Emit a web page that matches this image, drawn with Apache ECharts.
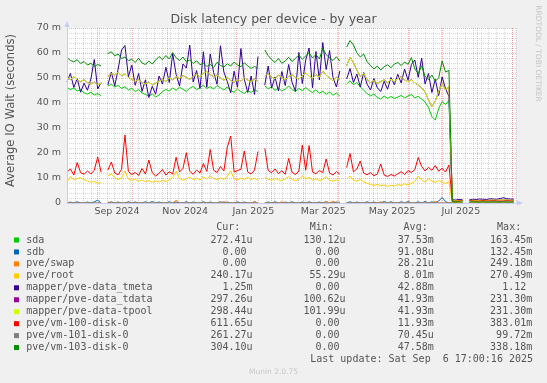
<!DOCTYPE html>
<html><head><meta charset="utf-8">
<script src="https://cdn.jsdelivr.net/npm/echarts@6/dist/echarts.min.js"></script>
<style>html,body{margin:0;padding:0;background:#f0f0f0}#c{width:547px;height:383px}</style>
</head><body><div id="c"></div>
<script>
// x axis in days from Mon 2024-08-05
const dayCount = 395;
const stepDays = 3;
const monthStartDays = [27,57,88,118,149,180,208,239,269,300,330,361,392];
const monthLabelDays = [44,104,164,225.5,286,346.5];
const monthLabels = ['Sep 2024','Nov 2024','Jan 2025','Mar 2025','May 2025','Jul 2025'];
const yTicks = [0,10,20,30,40,50,60,70];
const yTickLabels = ['0','10 m','20 m','30 m','40 m','50 m','60 m','70 m'];

const seriesNames = ['sda','sdb','pve/swap','pve/root','mapper/pve-data_tmeta','mapper/pve-data_tdata','mapper/pve-data-tpool','pve/vm-100-disk-0','pve/vm-101-disk-0','pve/vm-103-disk-0'];
const seriesColors = ['#00CC00','#0066B3','#FF8000','#FFCC00','#330099','#990099','#CCFF00','#FF0000','#808080','#008F00'];
const curVals = ['272.41u','  0.00','  0.00','240.17u','  1.25m','297.26u','298.44u','611.65u','261.27u','304.10u'];
const minVals = ['130.12u','  0.00','  0.00',' 55.29u','  0.00','100.62u','101.99u','  0.00','  0.00','  0.00'];
const avgVals = [' 37.53m',' 91.08u',' 28.21u','  8.01m',' 42.88m',' 41.93m',' 41.93m',' 11.93m',' 70.45u',' 47.58m'];
const maxVals = ['163.45m','132.45m','249.18m','270.49m','  1.12','231.30m','231.30m','383.01m',' 99.72m','338.18m'];

// values in milliseconds, one sample every 3 days
const sda = [46.2,45.4,45.9,44.8,45.3,44.1,43.6,44.3,43.2,43.8,
42.9,null,46.8,47.5,46.4,47.0,45.8,46.5,45.2,45.9,
44.6,45.3,44.0,43.4,42.8,43.6,42.4,43.2,44.6,45.4,
44.8,46.0,45.1,46.3,45.5,44.7,45.9,46.6,45.3,46.2,
47.1,45.8,46.5,45.6,47.0,46.1,45.2,46.4,45.0,44.3,
45.6,44.5,43.8,45.0,44.2,45.3,44.6,null,46.9,45.7,
46.4,45.1,46.0,44.8,45.6,46.8,45.4,44.6,45.8,44.9,
46.2,45.0,44.2,45.3,43.9,44.7,43.5,44.4,43.1,44.0,
42.8,null,47.6,48.9,47.3,48.2,46.5,45.1,43.8,42.9,
43.5,42.2,41.6,42.8,41.9,42.6,41.8,42.4,43.0,42.1,
42.8,43.4,42.0,42.7,41.5,40.4,38.2,34.6,33.2,37.8,
40.6,39.4,41.0,0.3,0.3,0.3,0.3,null,0.3,0.3,
0.3,0.3,0.3,0.3,0.3,0.3,0.3,0.3,0.3,0.3,
0.3,0.3];
const sdb = [0,0.4,0,0.5,0,0,0.4,0,0.5,1.1,
0,null,0,0.5,0,0.4,0,0,0.5,0,
0.4,0,0,0.5,0,0.6,0,0.4,0,0,
0.5,0,0.4,0,0,0.5,0,0.4,0,0,
0.5,0,0.4,0,0,0.5,0,0.4,0,0,
0.5,0,0.4,0,0,0.5,0,null,0,0.4,
0,0.5,0,0,0.4,0,0.5,0,0,0.4,
0,0.5,0,0,0.4,0,0.5,0,0,0.4,
0,null,0,0.5,0,0.4,0,0,0.5,0,
0.4,0,0,0.6,0,0.5,0,0,0.5,0,
0.6,0,0,0.5,0,0.6,0,0.5,0,0.8,
2.2,0.6,0,0,0,0,0,null,0,0,
0,0,0,0,0,0,0,0,0,0,
0,0];
const swap = [0.4,0,0,0,0,0,0,0,0,0,
0,null,0.5,0,0,0,0,0,0,0,
0,0,0,0,0,0,0,0,0,0,
0,0,1.1,0,0,0,0,0,0,0,
0,0,0,0,0,0,0.6,0,0,0,
0,0,0,0,0,0.5,0,null,0,0,
0,0,0,0.5,0,0,0,0,0,0,
0,0,0,0,0,0,0.6,0,0.8,0,
0.5,null,0,0,0,0,0,0,0,0,
0,0,0.5,0,0,0,0,0,0,0,
0,0,0,0,0,0,0,0,0.7,0,
0,0,0,0,0,0,0,null,0,0,
0,0,0,0,0,0,0,0,0,0,
0,0];
const root = [8.4,10.6,9.2,9.8,10.1,9.4,8.8,8.3,8.6,7.9,
8.2,null,10.8,11.6,10.2,9.4,10.0,12.8,9.6,9.0,
9.5,8.7,9.2,8.5,9.0,8.3,8.8,8.4,9.1,8.6,
9.3,10.2,12.6,9.8,9.1,9.7,10.4,9.3,9.9,9.2,
10.5,9.6,10.9,9.8,9.3,10.1,9.4,10.6,12.9,9.7,
9.2,10.0,9.5,10.3,9.4,9.9,9.1,null,10.4,9.6,
9.1,9.8,9.3,9.0,9.6,10.7,9.4,8.9,9.5,10.8,
9.6,10.3,9.2,9.7,9.0,9.4,10.6,9.1,8.7,9.3,
8.8,null,9.6,10.8,9.2,8.7,9.4,8.5,7.9,7.4,
7.0,7.5,6.9,7.2,6.6,7.1,6.8,7.4,7.0,7.7,
7.2,7.9,8.6,10.8,9.2,8.4,9.6,8.8,8.2,9.0,
8.4,7.8,8.5,0.2,0.2,0.2,0.2,null,0.2,0.2,
0.2,0.2,0.2,0.2,0.2,0.2,0.2,0.2,0.2,0.2,
0.2,0.2];
const tmeta = [48.5,51.8,46.2,49.7,44.3,47.9,45.1,49.6,57.4,45.6,
48.2,null,47.2,52.4,46.8,53.6,61.2,63.0,50.5,55.2,
47.1,51.8,44.6,49.3,42.2,46.7,43.5,50.8,47.6,54.3,
48.2,59.8,51.4,46.8,55.6,54.0,63.2,48.4,53.0,45.8,
60.5,46.3,59.6,52.2,47.5,62.9,52.4,48.6,44.1,52.7,
46.3,61.8,49.5,44.2,50.8,43.4,58.6,null,47.2,54.8,
46.0,50.4,44.8,52.6,47.0,55.4,48.3,44.7,60.2,47.8,
57.2,62.0,46.1,60.6,49.2,64.2,53.4,61.0,50.2,46.4,
52.8,null,49.6,53.8,48.2,51.6,46.4,52.2,47.5,45.2,
49.8,46.1,44.6,48.7,45.5,50.2,47.3,51.5,48.0,53.6,
49.1,55.4,57.2,50.3,58.0,47.6,51.8,44.2,49.5,43.0,
50.4,45.8,42.6,1.3,1.2,1.4,1.3,null,1.3,1.5,
1.4,1.6,1.5,1.4,1.7,1.6,1.5,1.8,2.1,1.7,
1.6,1.5];
const tpool = [50.2,49.4,50.6,49.1,48.5,49.3,48.2,47.6,48.4,47.3,
47.9,null,50.6,51.8,51.2,52.3,50.9,51.6,50.2,49.5,
48.6,49.4,48.1,47.6,48.4,47.2,47.9,48.8,49.5,48.6,
50.1,49.2,50.6,49.8,51.0,50.3,49.4,50.7,51.5,50.4,
51.9,52.6,51.4,50.5,51.2,50.0,49.1,50.3,49.0,48.2,
49.4,48.7,50.1,49.2,48.5,49.6,48.8,null,50.8,51.6,
50.4,49.7,51.2,50.1,49.3,50.6,51.4,50.2,49.5,50.9,
52.1,50.7,49.8,51.3,50.4,52.8,51.1,50.0,48.9,50.3,
49.4,null,54.8,58.4,56.1,53.2,50.6,51.8,49.4,48.2,
49.0,47.8,48.6,49.3,48.1,49.6,48.4,49.9,50.5,49.2,
48.5,49.4,48.0,47.2,46.1,44.4,41.2,38.5,40.8,44.6,
47.9,45.2,46.8,1.0,0.9,1.0,1.0,null,1.0,1.1,
1.0,1.0,1.1,1.0,1.1,1.2,1.1,1.2,1.3,1.2,
1.1,1.1];
const tdata = tpool; // identical values (same avg/max in legend)
const vm100 = [12.4,13.6,11.2,16.2,12.1,11.5,12.8,11.6,13.1,18.4,
12.3,null,13.2,16.4,12.0,11.3,13.5,27.2,12.6,11.4,
12.2,11.0,13.8,11.6,17.2,12.1,10.8,11.9,13.4,11.2,
12.5,11.6,18.3,12.4,13.8,20.1,12.7,11.5,13.2,12.0,
15.8,12.6,21.4,13.1,12.2,14.6,12.8,22.2,26.8,12.4,
13.0,13.5,20.8,12.4,11.6,13.2,20.6,null,21.8,13.0,
12.1,13.6,11.8,12.9,11.5,17.8,12.3,11.4,12.8,23.2,
13.1,23.0,12.4,11.7,13.0,12.2,17.6,12.0,11.2,12.6,
11.5,null,14.2,19.8,12.5,13.6,16.8,12.0,11.3,12.1,
10.9,11.6,15.6,11.2,10.6,11.4,10.8,11.7,12.5,11.4,
13.0,12.2,13.4,18.2,14.6,12.8,14.2,13.1,15.0,12.7,
13.9,12.4,15.2,0.8,0.7,0.8,0.9,null,0.9,0.8,
0.7,0.8,0.9,0.8,0.8,0.9,0.8,0.7,0.8,0.9,
0.8,0.8];
const vm101 = [0,0,0,0,0,0,0,0,0,0,
0,null,0,0,0,0,0,0,0,0,
0,0,0,0,0,0,0,0,0,0,
0,0,0,0,0,0,0,0,0,0,
0,0,0,0,0,0,0,0,0,0,
0,0,0,0,0,0,0,null,0,0,
0,0,0,0,0,0,0,0,0,0,
0,0,0,0,0,0,0,0,0,0,
0,null,0,0,0,0,0,0,0,0,
0,0,0,0,0,0,0,0,0,0,
0,0,0,0,0,0,0,0,0,0,
0,0,0,0,0,0,0,null,0,0,
0,0,0,0,0,0,0,0,0,0,
0,0];
const vm103 = [58.2,57.0,56.5,57.3,55.8,56.6,55.2,55.9,54.6,55.4,
54.8,null,59.8,60.5,58.9,59.6,57.8,58.4,56.9,57.5,
56.2,57.9,56.0,55.4,56.8,55.6,57.2,58.6,57.4,59.0,
57.6,60.2,58.1,57.0,58.4,56.5,57.2,55.8,56.9,55.3,
56.0,54.6,55.5,54.2,56.3,55.0,54.4,55.7,54.8,56.4,
55.2,54.5,56.1,54.9,53.8,54.6,53.9,null,61.2,59.0,
57.4,56.2,57.8,55.9,56.8,58.3,56.6,57.9,59.2,57.5,
58.8,60.1,58.0,59.4,57.6,61.8,59.3,58.1,57.0,58.5,
56.7,null,62.4,65.0,63.2,60.1,58.4,59.6,56.5,55.0,
53.6,54.8,53.2,54.5,55.3,54.1,55.6,56.2,55.0,56.4,
55.5,58.2,53.6,51.8,54.9,50.6,49.4,51.2,48.7,50.1,
56.8,52.4,53.0,0.5,0.4,0.5,0.4,null,0.4,0.5,
0.4,0.4,0.5,0.4,0.4,0.5,0.4,0.4,0.5,0.4,
0.4,0.4];

const seriesValues = [sda,sdb,swap,root,tmeta,tdata,tpool,vm100,vm101,vm103];

const TXT = '#555555';
const SANS = 'DejaVu Sans';
const MONO = '"DejaVu Sans Mono"';
const majorGrid = 'rgba(255,0,0,0.32)';
const minorGrid = 'rgba(128,128,128,0.32)';
const axisCol = '#c6ccf4';

const series = seriesValues.map((vals, k) => ({
  name: seriesNames[k],
  type: 'line',
  xAxisIndex: 0, yAxisIndex: 0,
  data: vals.map((v, i) => [i * stepDays, v]),
  symbol: 'none', showSymbol: false, silent: true,
  connectNulls: false,
  lineStyle: { color: seriesColors[k], width: 1 },
  itemStyle: { color: seriesColors[k] },
  emphasis: { disabled: true },
  z: 2
}));

const els = [];
els.push({ type:'text', x:273.5, y:20, silent:true, style:{ text:'Disk latency per device - by year', font:'12.5px "DejaVu Sans"', fill:TXT, align:'center', verticalAlign:'middle', textAlign:'center', textVerticalAlign:'middle' } });
els.push({ type:'text', x:10.5, y:110.5, rotation:Math.PI/2, silent:true, style:{ text:'Average IO Wait (seconds)', font:'11.6px "DejaVu Sans"', fill:TXT, align:'center', verticalAlign:'middle', textAlign:'center', textVerticalAlign:'middle' } });
els.push({ type:'text', x:537.5, y:53.5, rotation:-Math.PI/2, silent:true, style:{ text:'RRDTOOL / TOBI OETIKER', font:'7.5px "DejaVu Sans"', fill:'#c4c4c4', align:'center', verticalAlign:'middle', textAlign:'center', textVerticalAlign:'middle' } });
els.push({ type:'text', x:273.5, y:372, silent:true, style:{ text:'Munin 2.0.75', font:'7.5px "DejaVu Sans"', fill:'#c8c8c8', align:'center', verticalAlign:'middle', textAlign:'center', textVerticalAlign:'middle' } });

const colX = { sq:14, name:26.2, cur:210.4, min:303.5, avg:391.7, max:490.1 };
const headers = [['Cur:',216.3],['Min:',309.8],['Avg:',403.6],['Max:',497.1]];
const monoFont = '10px ' + MONO;
function t(text, x, y, align) {
  return { type:'text', x:x, y:y, silent:true, style:{ text:text, font:monoFont, fill:TXT, align:align||'left', verticalAlign:'middle', textAlign:align||'left', textVerticalAlign:'middle' } };
}
headers.forEach(h => els.push(t(h[0], h[1], 227.3)));
const rowY0 = 240, rowStep = 11.95;
seriesNames.forEach((n, i) => {
  const y = rowY0 + i * rowStep;
  els.push({ type:'rect', silent:true, shape:{ x:colX.sq, y:y-2.5, width:5, height:5 }, style:{ fill:seriesColors[i] } });
  els.push(t(n, colX.name, y));
  els.push(t(curVals[i], colX.cur, y));
  els.push(t(minVals[i], colX.min, y));
  els.push(t(avgVals[i], colX.avg, y));
  els.push(t(maxVals[i], colX.max, y));
});
els.push(t('Last update: Sat Sep  6 17:00:16 2025', 533, 359.3, 'right'));

const chart = echarts.init(document.getElementById('c'), null, { renderer:'canvas' });
chart.setOption({
  animation: false,
  backgroundColor: '#f0f0f0',
  grid: { left:67, right:31, top:28, bottom:180, show:true, backgroundColor:'#ffffff', borderWidth:0, containLabel:false, outerBoundsMode:'none' },
  xAxis: [
    { type:'value', min:0, max:dayCount, interval:7, position:'bottom',
      axisLine:{show:false}, axisTick:{show:false},
      axisLabel:{ customValues: monthLabelDays, color:TXT, fontFamily:SANS, fontSize:9.5, margin:4,
        formatter: v => { let b=0; monthLabelDays.forEach((d,i)=>{ if (Math.abs(d-v) < Math.abs(monthLabelDays[b]-v)) b=i; }); return monthLabels[b]; } },
      splitLine:{ show:true, lineStyle:{ color:minorGrid, width:1, type:[1,1] } } },
    { type:'value', min:0, max:dayCount, position:'bottom',
      axisLine:{show:false}, axisLabel:{show:false},
      axisTick:{ show:false, customValues: monthStartDays },
      splitLine:{ show:true, lineStyle:{ color:majorGrid, width:1, type:[1,1] } } },
    { type:'value', min:0, max:dayCount, position:'bottom', z:3,
      axisLine:{ show:true, lineStyle:{ color:axisCol, width:1 }, symbol:['none','triangle'], symbolSize:[5,6], symbolOffset:[0,4] },
      axisTick:{show:false}, axisLabel:{show:false}, splitLine:{show:false} }
  ],
  yAxis: [
    { type:'value', min:0, max:70, interval:10, position:'left',
      axisLine:{show:false}, axisTick:{show:false},
      axisLabel:{ color:TXT, fontFamily:SANS, fontSize:9.5, margin:6, formatter: v => yTickLabels[yTicks.indexOf(Math.round(v))] },
      splitLine:{ show:true, lineStyle:{ color:majorGrid, width:1, type:[1,1] } },
      minorTick:{ show:false, splitNumber:5 },
      minorSplitLine:{ show:true, lineStyle:{ color:minorGrid, width:1, type:[1,1] } } },
    { type:'value', min:0, max:70, position:'left', z:3,
      axisLine:{ show:true, lineStyle:{ color:axisCol, width:1 }, symbol:['none','triangle'], symbolSize:[5,6], symbolOffset:[0,4] },
      axisTick:{show:false}, axisLabel:{show:false}, splitLine:{show:false} }
  ],
  series: series,
  graphic: { elements: els }
});
</script></body></html>
